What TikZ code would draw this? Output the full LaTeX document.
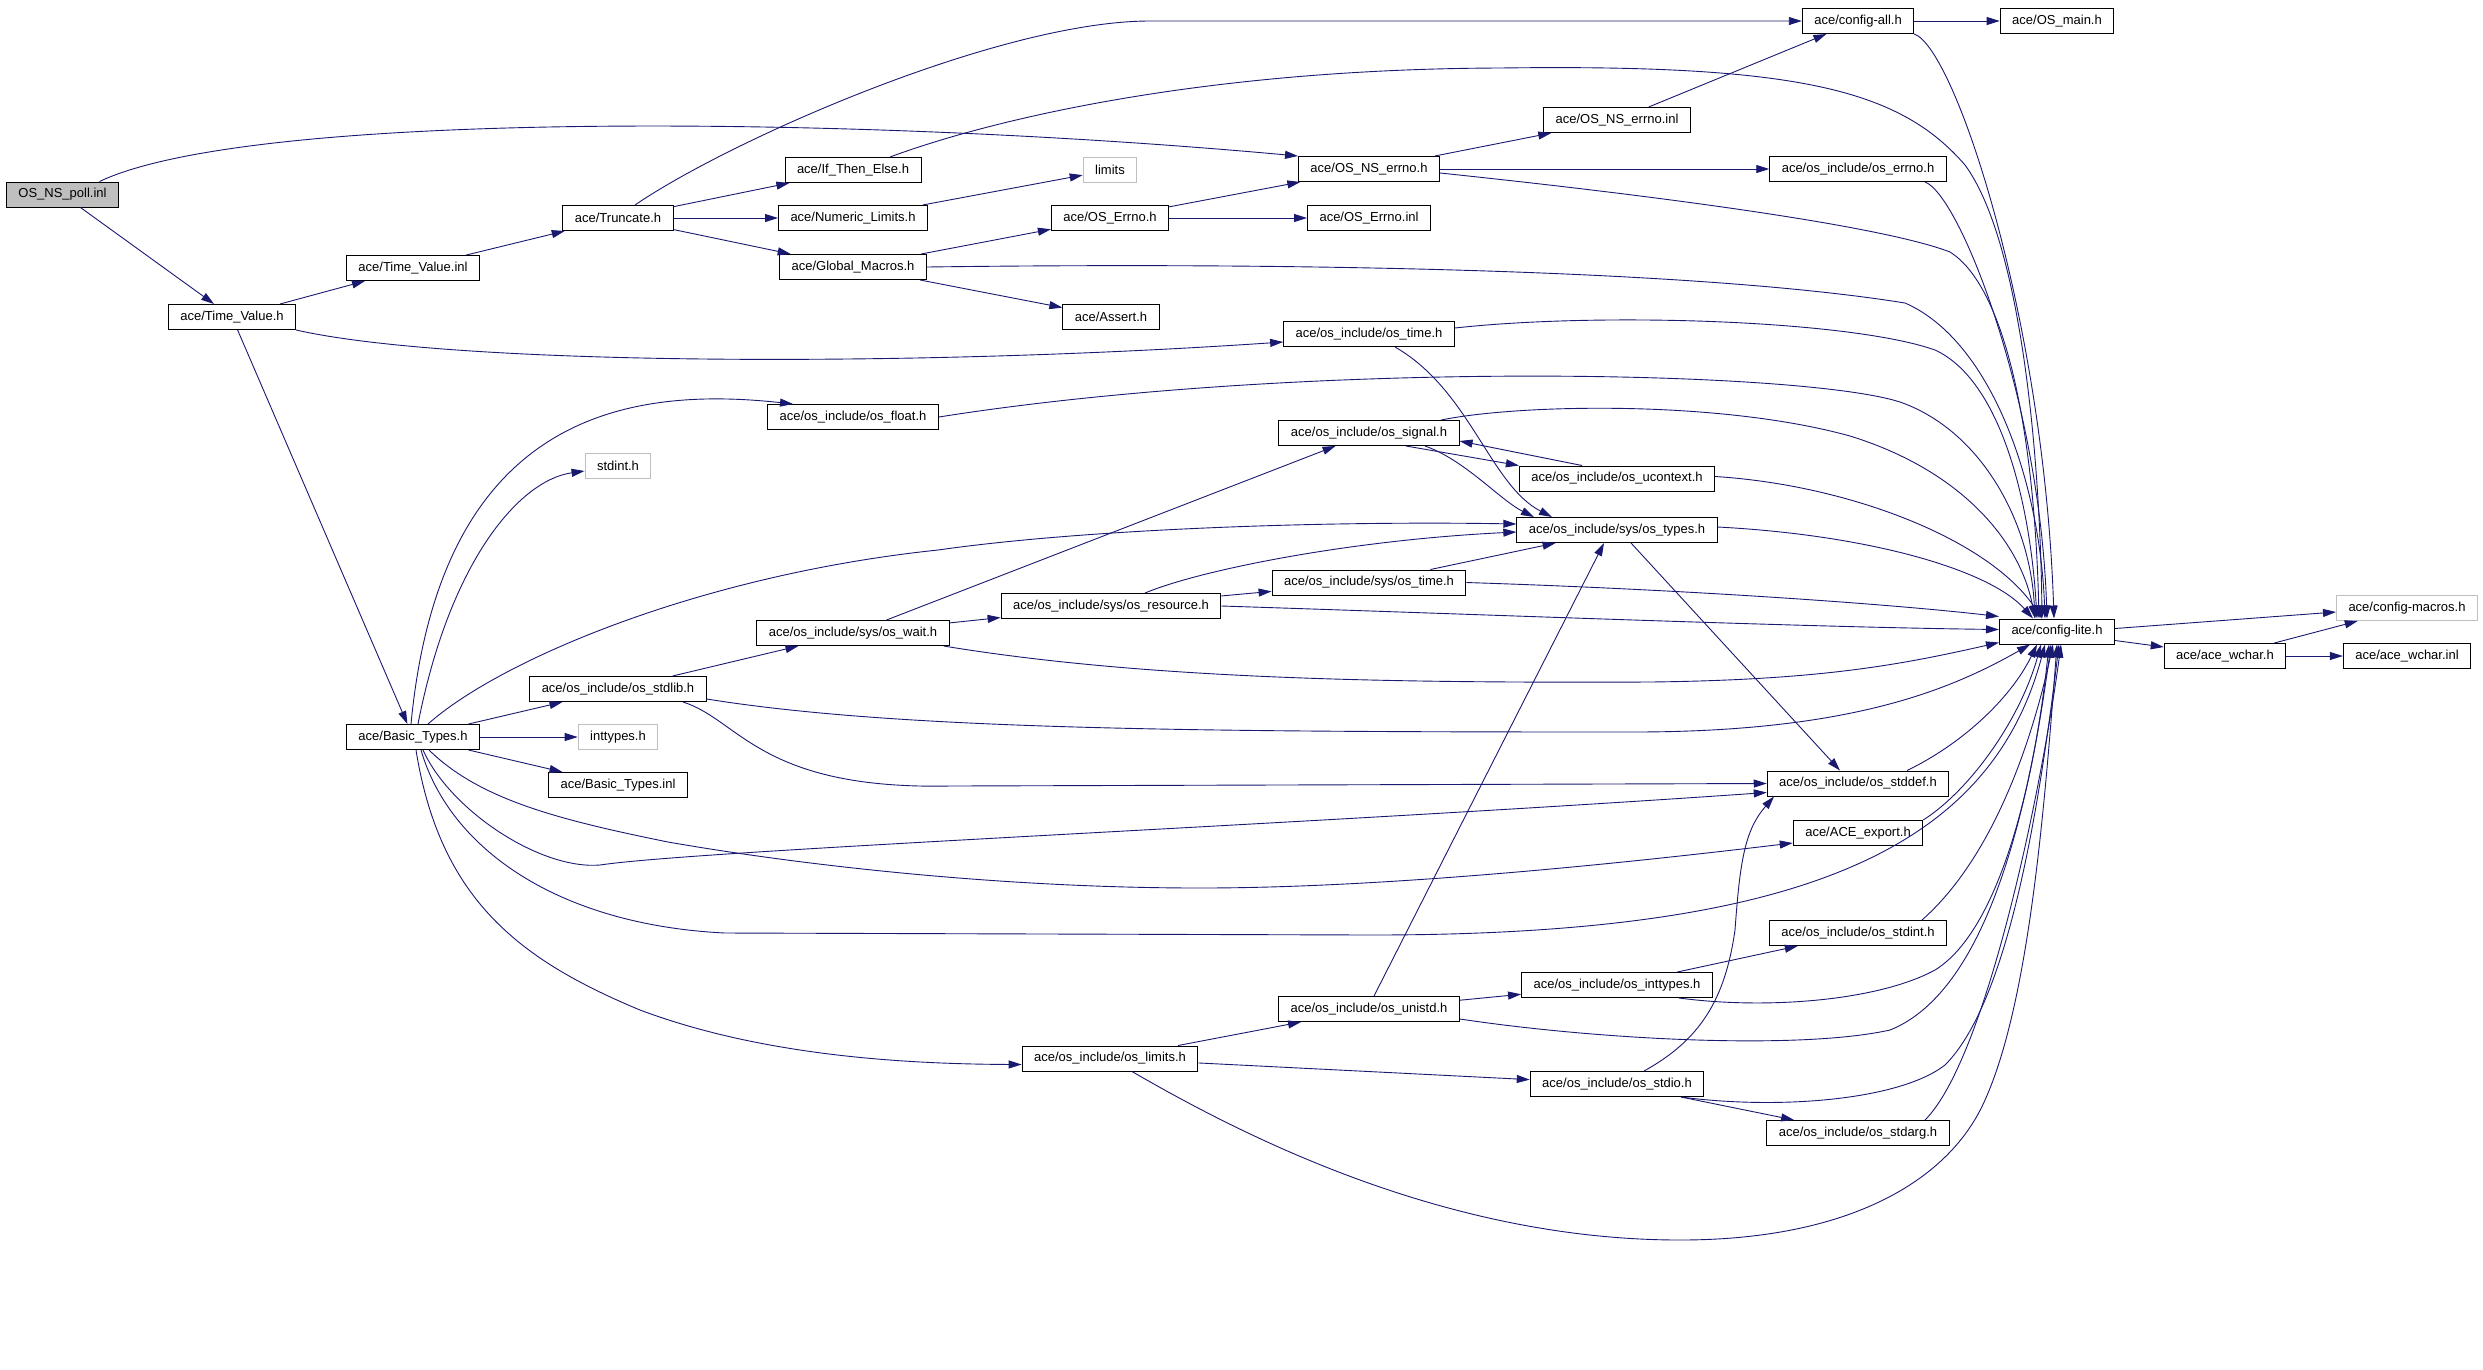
\documentclass[tikz,border=0pt]{standalone}
\usepackage{fontspec}
\setmainfont{Liberation Sans}
\usepackage{tikz}
\usetikzlibrary{arrows.meta}
\definecolor{edgeblue}{HTML}{191970}
\definecolor{boxgray}{HTML}{BFBFBF}

\begin{document}
\begin{tikzpicture}[x=1pt,y=-1pt,
		incbox/.style={draw=black,line width=1pt,fill=white,minimum height=25pt,inner xsep=12pt,inner ysep=0pt,font=\fontsize{13}{15}\selectfont},
		sysbox/.style={incbox,draw=boxgray},
		rootbox/.style={incbox,fill=boxgray},
		incline/.style={draw=edgeblue,line width=0.9pt,-{Triangle[length=13pt,width=8pt]}}]
			%%%%% START %%%%%
			
			\useasboundingbox (0,0) rectangle (2483,1369);
			
			\node[rootbox] (poll) at (62.5,194.5) {OS\_NS\_poll.inl};
			\node[incbox] (tvh) at (232,317) {ace/Time\_Value.h};
			\node[incbox] (tvinl) at (413,268) {ace/Time\_Value.inl};
			\node[incbox] (trunc) at (618,218) {ace/Truncate.h};
			\node[incbox] (ite) at (853,170) {ace/If\_Then\_Else.h};
			\node[incbox] (numlim) at (853,218) {ace/Numeric\_Limits.h};
			\node[incbox] (gmac) at (853,267) {ace/Global\_Macros.h};
			\node[incbox] (osfloat) at (853,417) {ace/os\_include/os\_float.h};
			\node[incbox] (cfgall) at (1858,21) {ace/config-all.h};
			\node[incbox] (osmain) at (2057,21) {ace/OS\_main.h};
			\node[incbox] (nserrinl) at (1617,120) {ace/OS\_NS\_errno.inl};
			\node[sysbox] (limits) at (1110,170) {limits};
			\node[incbox] (nserrh) at (1369,169) {ace/OS\_NS\_errno.h};
			\node[incbox] (oserrno) at (1858,169) {ace/os\_include/os\_errno.h};
			\node[incbox] (errnoh) at (1110,218) {ace/OS\_Errno.h};
			\node[incbox] (errnoinl) at (1369,218) {ace/OS\_Errno.inl};
			\node[incbox] (assert) at (1111,317) {ace/Assert.h};
			\node[incbox] (ostime) at (1369,334) {ace/os\_include/os\_time.h};
			\node[incbox] (ossignal) at (1369,433) {ace/os\_include/os\_signal.h};
			\node[sysbox] (stdint) at (618,466) {stdint.h};
			\node[incbox] (osstdlib) at (618,689) {ace/os\_include/os\_stdlib.h};
			\node[incbox] (btypes) at (413,737) {ace/Basic\_Types.h};
			\node[sysbox] (inttypes) at (618,737) {inttypes.h};
			\node[incbox] (btinl) at (618,785) {ace/Basic\_Types.inl};
			\node[incbox] (oswait) at (853,633) {ace/os\_include/sys/os\_wait.h};
			\node[incbox] (osres) at (1111,606) {ace/os\_include/sys/os\_resource.h};
			\node[incbox] (osuctx) at (1617,478.5) {ace/os\_include/os\_ucontext.h};
			\node[incbox] (ostypes) at (1617,530) {ace/os\_include/sys/os\_types.h};
			\node[incbox] (systime) at (1369,582.5) {ace/os\_include/sys/os\_time.h};
			\node[incbox] (cfglite) at (2057,631.5) {ace/config-lite.h};
			\node[sysbox] (cfgmac) at (2407,608) {ace/config-macros.h};
			\node[incbox] (wchar) at (2225,656) {ace/ace\_wchar.h};
			\node[incbox] (wcharinl) at (2407,656) {ace/ace\_wchar.inl};
			\node[incbox] (osstddef) at (1858,783.5) {ace/os\_include/os\_stddef.h};
			\node[incbox] (aceexport) at (1858,833) {ace/ACE\_export.h};
			\node[incbox] (osstdint) at (1858,933) {ace/os\_include/os\_stdint.h};
			\node[incbox] (osinttypes) at (1617,985) {ace/os\_include/os\_inttypes.h};
			\node[incbox] (osunistd) at (1369,1009) {ace/os\_include/os\_unistd.h};
			\node[incbox] (oslimits) at (1110,1058.5) {ace/os\_include/os\_limits.h};
			\node[incbox] (osstdio) at (1617,1084) {ace/os\_include/os\_stdio.h};
			\node[incbox] (osstdarg) at (1858,1133) {ace/os\_include/os\_stdarg.h};
			
			\draw[incline] (poll) -- (tvh);
			\draw[incline] ([xshift=37pt]poll.north) .. controls (250,110) and (850,115) .. (nserrh.north west);
			\draw[incline] (tvh) -- (tvinl);
			\draw[incline] (tvh.south east) .. controls (450,365) and (900,368) .. ([yshift=-8pt]ostime.west);
			\draw[incline] (tvh) -- (btypes);
			\draw[incline] (tvinl) -- (trunc);
			\draw[incline] (trunc) -- (ite);
			\draw[incline] (trunc) -- (numlim);
			\draw[incline] (trunc) -- (gmac);
			\draw[incline] ([xshift=17pt]trunc.north) .. controls (730,140) and (1000,21) .. (1150,21) -- (cfgall.west);
			\draw[incline] ([xshift=37pt]ite.north) .. controls (990,120) and (1200,69) .. (1500,68) .. controls (1800,64) and (1900,90) .. (1965,165) .. controls (2020,240) and (2040,450) .. ([xshift=-15pt]cfglite.north);
			\draw[incline] (numlim) -- (limits);
			\draw[incline] (gmac) -- (errnoh);
			\draw[incline] (gmac) -- (assert);
			\draw[incline] (gmac.east) .. controls (1300,262) and (1700,270) .. (1905,303) .. controls (1990,340) and (2040,480) .. ([xshift=-12pt]cfglite.north);
			\draw[incline] (errnoh) -- (nserrh);
			\draw[incline] (errnoh) -- (errnoinl);
			\draw[incline] (nserrh) -- (nserrinl);
			\draw[incline] (nserrh) -- (oserrno);
			\draw[incline] ([yshift=-4pt]nserrh.east) .. controls (1650,195) and (1880,225) .. (1950,252) .. controls (2010,290) and (2035,450) .. ([xshift=-18pt]cfglite.north);
			\draw[incline] (nserrinl) -- (cfgall);
			\draw[incline] (cfgall) -- (osmain);
			\draw[incline] (cfgall.south east) .. controls (1955,48) and (2044,319) .. ([xshift=-3pt]cfglite.north);
			\draw[incline] ([xshift=67pt]oserrno.south) .. controls (1960,195) and (2040,400) .. ([xshift=-10pt]cfglite.north);
			\draw[incline] ([yshift=6pt]ostime.east) .. controls (1600,312) and (1850,320) .. (1935,350) .. controls (2000,380) and (2030,500) .. ([xshift=-20pt]cfglite.north);
			\draw[incline] ([xshift=26pt]ostime.south) .. controls (1470,390) and (1490,485) .. ([xshift=-65pt]ostypes.north);
			\draw[incline] (osfloat.east) .. controls (1300,360) and (1800,370) .. (1900,402) .. controls (1980,430) and (2030,520) .. ([xshift=-22pt]cfglite.north);
			
			\draw[incline] ([xshift=-2pt]btypes.north) .. controls (440,420) and (620,385) .. ([xshift=-60pt]osfloat.north);
			\draw[incline] ([xshift=5pt]btypes.north) .. controls (450,560) and (520,480) .. ([yshift=-5pt]stdint.west);
			\draw[incline] ([xshift=15pt]btypes.north) .. controls (500,660) and (700,575) .. (938,550) .. controls (1100,527) and (1350,521) .. ([yshift=6pt]ostypes.west);
			\draw[incline] (btypes) -- (osstdlib);
			\draw[incline] (btypes) -- (inttypes);
			\draw[incline] (btypes) -- (btinl);
			\draw[incline] ([xshift=10pt]btypes.south) .. controls (450,810) and (540,870) .. (600,865) .. controls (700,850) and (1300,825) .. ([yshift=-9pt]osstddef.west);
			\draw[incline] ([xshift=16pt]btypes.south) .. controls (480,800) and (560,820) .. (668,842) .. controls (800,865) and (1000,888) .. (1200,888) .. controls (1400,888) and (1650,860) .. ([yshift=-10pt]aceexport.west);
			\draw[incline] ([xshift=8pt]btypes.south) .. controls (450,850) and (560,925) .. (725,933) -- (1371,935) .. controls (1800,935) and (1990,850) .. ([xshift=-12pt]cfglite.south);
			\draw[incline] ([xshift=3pt]btypes.south) .. controls (440,900) and (520,960) .. (640,1010) .. controls (760,1055) and (900,1064) .. ([yshift=-6pt]oslimits.west);
			
			\draw[incline] (osstdlib) -- (oswait);
			\draw[incline] ([yshift=-10pt]osstdlib.east) .. controls (900,730) and (1200,732) .. (1633,732) .. controls (1850,732) and (1950,690) .. ([xshift=-27pt]cfglite.south);
			\draw[incline] ([xshift=65pt]osstdlib.south) .. controls (740,720) and (760,790) .. (950,786) -- (osstddef.west);
			\draw[incline] (oswait) -- (ossignal);
			\draw[incline] (oswait) -- (osres);
			\draw[incline] ([xshift=-6pt]oswait.south east) .. controls (1150,680) and (1400,683) .. (1650,682) .. controls (1820,680) and (1900,665) .. ([yshift=-11pt]cfglite.west);
			\draw[incline] ([xshift=34pt]osres.north) .. controls (1200,570) and (1350,540) .. ([yshift=-2pt]ostypes.west);
			\draw[incline] (osres) -- (systime);
			\draw[incline] (osres.east) .. controls (1500,615) and (1800,627) .. ([yshift=2pt]cfglite.west);
			\draw[incline] (systime) -- (ostypes);
			\draw[incline] (systime.east) .. controls (1700,590) and (1900,605) .. ([yshift=15pt]cfglite.west);
			
			\draw[incline] ([xshift=37pt]ossignal.south) -- (osuctx.north west);
			\draw[incline] ([xshift=-35pt]osuctx.north) -- ([yshift=-8pt]ossignal.east);
			\draw[incline] ([xshift=56pt]ossignal.south) .. controls (1465,460) and (1500,500) .. ([xshift=-83pt]ostypes.north);
			\draw[incline] ([xshift=72pt]ossignal.north) .. controls (1520,404) and (1720,400) .. (1850,436) .. controls (1960,470) and (2020,540) .. ([xshift=-22pt]cfglite.north);
			\draw[incline] ([yshift=2pt]osuctx.east) .. controls (1850,485) and (1990,540) .. ([xshift=-15pt]cfglite.north);
			\draw[incline] ([xshift=14pt]ostypes.south) -- ([xshift=-18pt]osstddef.north);
			\draw[incline] ([yshift=3pt]ostypes.east) .. controls (1870,535) and (1990,570) .. ([xshift=-24pt]cfglite.north);
			
			\draw[incline] ([xshift=5pt]osunistd.north) -- ([xshift=-13pt]ostypes.south);
			\draw[incline] (osunistd) -- (osinttypes);
			\draw[incline] ([yshift=-10pt]osunistd.east) .. controls (1600,1040) and (1800,1050) .. (1890,1030) .. controls (1990,990) and (2030,800) .. ([xshift=-6pt]cfglite.south);
			\draw[incline] (osinttypes) -- (osstdint);
			\draw[incline] ([xshift=62pt]osinttypes.south) .. controls (1770,1010) and (1880,1000) .. (1935,970) .. controls (2000,930) and (2035,780) .. ([xshift=-8pt]cfglite.south);
			\draw[incline] (oslimits) -- (osunistd);
			\draw[incline] (oslimits) -- (osstdio);
			\draw[incline] ([xshift=22pt]oslimits.south) .. controls (1250,1140) and (1450,1240) .. (1680,1240) .. controls (1850,1240) and (1950,1180) .. (1985,1100) .. controls (2030,1000) and (2045,800) .. (cfglite.south);
			\draw[incline] ([xshift=27pt]osstdio.north) .. controls (1700,1040) and (1725,1000) .. (1735,930) .. controls (1740,860) and (1745,830) .. ([xshift=-84pt]osstddef.south);
			\draw[incline] (osstdio) -- (osstdarg);
			\draw[incline] ([xshift=64pt]osstdio.south) .. controls (1780,1110) and (1900,1100) .. (1945,1065) .. controls (2010,1000) and (2040,800) .. ([xshift=2pt]cfglite.south);
			\draw[incline] ([xshift=67pt]osstdarg.north) .. controls (1985,1060) and (2040,800) .. ([xshift=4pt]cfglite.south);
			\draw[incline] ([xshift=64pt]osstdint.north) .. controls (1990,860) and (2030,750) .. ([xshift=-4pt]cfglite.south);
			\draw[incline] (aceexport.north east) .. controls (1970,790) and (2020,720) .. ([xshift=-16pt]cfglite.south);
			\draw[incline] ([xshift=49pt]osstddef.north) .. controls (1960,745) and (2010,700) .. ([xshift=-20pt]cfglite.south);
			
			\draw[incline] ([yshift=3pt]cfglite.east) -- ([yshift=-4pt]cfgmac.west);
			\draw[incline] ([yshift=-9pt]cfglite.east) -- ([yshift=9pt]wchar.west);
			\draw[incline] (wchar) -- (cfgmac);
			\draw[incline] (wchar) -- (wcharinl);
			
			%%%%% END %%%%%
\end{tikzpicture}
\end{document}
